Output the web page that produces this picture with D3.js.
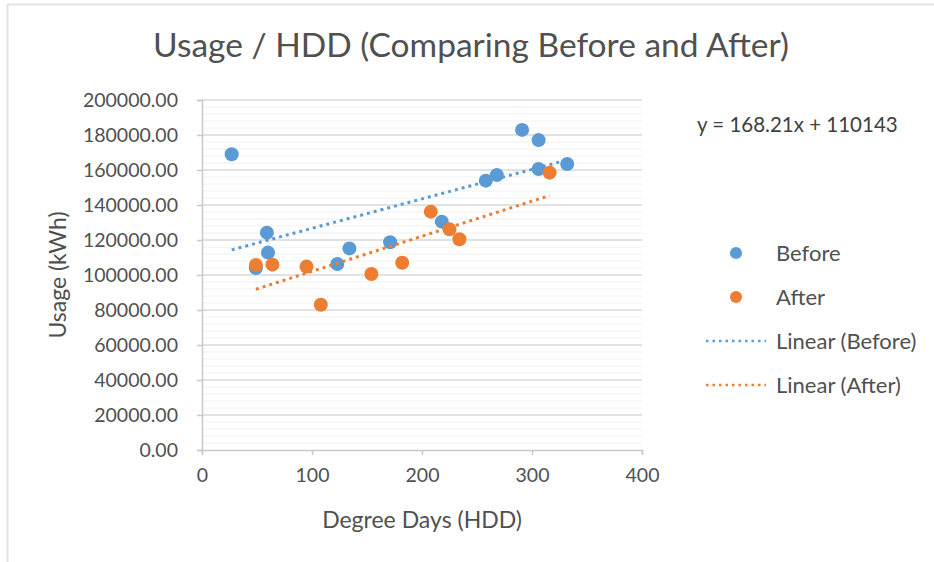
<!DOCTYPE html>
<html>
<head>
<meta charset="utf-8">
<script src="https://cdn.jsdelivr.net/npm/d3@7"></script>
<style>
  body { margin: 0; background: #fff; }
  svg { font-family: Lato, "Open Sans", sans-serif; }
</style>
</head>
<body>
<svg id="chart" width="934" height="562"></svg>
<script>
// Before retrofit: heating degree days and usage
const beforeHdd   = [27, 49, 59, 60, 123, 134, 171, 218, 258, 268, 291, 306, 306, 332];
const beforeUsage = [169000, 104000, 124200, 112800, 106300, 115200, 118700, 130500, 153900, 157100, 182900, 177100, 160600, 163400];

// After retrofit
const afterHdd   = [49, 64, 95, 108, 154, 182, 208, 225, 234, 316];
const afterUsage = [105700, 105900, 104800, 83000, 100600, 107000, 136200, 126100, 120400, 158500];

const xTicks = [0, 100, 200, 300, 400];
const yTicks = [0, 20000, 40000, 60000, 80000, 100000, 120000, 140000, 160000, 180000, 200000];
const equationLabel = "y = 168.21x + 110143";

const blue = "#5b9bd5";
const orange = "#ed7d31";
const textColor = "#505050";

const svg = d3.select("#chart");
const margin = { top: 100, right: 292, bottom: 112, left: 202 };
const width = 934, height = 562;

const x = d3.scaleLinear().domain([0, 400]).range([margin.left, width - margin.right]);
const y = d3.scaleLinear().domain([0, 200000]).range([height - margin.bottom, margin.top]);

// faint frame lines at the top and left
svg.append("line").attr("x1", 7).attr("x2", width).attr("y1", 4.5).attr("y2", 4.5)
    .attr("stroke", "#e4e4e4").attr("stroke-width", 2);
svg.append("line").attr("x1", 7.5).attr("x2", 7.5).attr("y1", 4).attr("y2", height)
    .attr("stroke", "#e4e4e4").attr("stroke-width", 2);

// minor gridlines
const minor = d3.range(0, 200001, 4000).filter(v => v % 20000 !== 0);
svg.append("g").selectAll("line").data(minor).enter().append("line")
    .attr("x1", x(0)).attr("x2", x(400))
    .attr("y1", d => y(d)).attr("y2", d => y(d))
    .attr("stroke", "#f0f0f0").attr("stroke-width", 1);

// major gridlines
svg.append("g").selectAll("line").data(yTicks.filter(v => v > 0)).enter().append("line")
    .attr("x1", x(0)).attr("x2", x(400))
    .attr("y1", d => y(d)).attr("y2", d => y(d))
    .attr("stroke", "#d9d9d9").attr("stroke-width", 1.5);

// axes
const xAxis = d3.axisBottom(x).tickValues(xTicks).tickSize(5).tickPadding(13).tickFormat(d3.format("d"));
const yAxis = d3.axisLeft(y).tickValues(yTicks).tickSize(5).tickPadding(19).tickFormat(d3.format(".2f"));

const gx = svg.append("g").attr("transform", `translate(0,${y(0)})`).call(xAxis);
const gy = svg.append("g").attr("transform", `translate(${x(0)},0)`).call(yAxis);

[gx, gy].forEach(g => {
    g.select(".domain").attr("stroke", "#c9c9c9").attr("stroke-width", 1.5);
    g.selectAll(".tick line").attr("stroke", "#c9c9c9").attr("stroke-width", 1.5);
    g.selectAll("text").attr("fill", textColor).style("font-size", "19.5px")
        .style("font-family", "Lato, sans-serif");
});
gy.selectAll("text").attr("dy", "0.35em");

// axis titles
svg.append("text")
    .attr("x", (x(0) + x(400)) / 2).attr("y", 528)
    .attr("text-anchor", "middle").attr("fill", textColor)
    .style("font-size", "23px")
    .text("Degree Days (HDD)");

svg.append("text")
    .attr("transform", `translate(66,${(y(0) + y(200000)) / 2}) rotate(-90)`)
    .attr("text-anchor", "middle").attr("fill", textColor)
    .style("font-size", "23px")
    .text("Usage (kWh)");

// chart title
svg.append("text")
    .attr("x", 471).attr("y", 57)
    .attr("text-anchor", "middle").attr("fill", textColor)
    .style("font-size", "33.5px")
    .text("Usage / HDD (Comparing Before and After)");

// least squares fit, drawn over the series' own x range
function fit(xs, ys) {
    const mx = d3.mean(xs), my = d3.mean(ys);
    const sxy = d3.sum(xs, (v, i) => (v - mx) * (ys[i] - my));
    const sxx = d3.sum(xs, v => (v - mx) * (v - mx));
    const slope = sxy / sxx;
    const icpt = my - slope * mx;
    const [x0, x1] = d3.extent(xs);
    return [[x0, icpt + slope * x0], [x1, icpt + slope * x1]];
}

const line = d3.line().x(d => x(d[0])).y(d => y(d[1]));

const beforePts = beforeHdd.map((v, i) => [v, beforeUsage[i]]);
const afterPts = afterHdd.map((v, i) => [v, afterUsage[i]]);

// markers
svg.append("g").selectAll("circle").data(beforePts).enter().append("circle")
    .attr("cx", d => x(d[0])).attr("cy", d => y(d[1])).attr("r", 7)
    .attr("fill", blue);

svg.append("g").selectAll("circle").data(afterPts).enter().append("circle")
    .attr("cx", d => x(d[0])).attr("cy", d => y(d[1])).attr("r", 7)
    .attr("fill", orange);

// trendlines
svg.append("path").datum(fit(beforeHdd, beforeUsage)).attr("d", line)
    .attr("fill", "none").attr("stroke", blue).attr("stroke-width", 3)
    .attr("stroke-dasharray", "3 4");
svg.append("path").datum(fit(afterHdd, afterUsage)).attr("d", line)
    .attr("fill", "none").attr("stroke", orange).attr("stroke-width", 3)
    .attr("stroke-dasharray", "3 4");

// trendline equation
svg.append("text")
    .attr("x", 697).attr("y", 132)
    .attr("fill", "#404040")
    .style("font-size", "20.5px")
    .text(equationLabel);

// legend
const legendItems = [
    { label: "Before", color: blue, kind: "dot" },
    { label: "After", color: orange, kind: "dot" },
    { label: "Linear (Before)", color: blue, kind: "line" },
    { label: "Linear (After)", color: orange, kind: "line" }
];
const legend = svg.append("g");
legendItems.forEach((it, i) => {
    const cy = 253 + i * 44;
    if (it.kind === "dot") {
        legend.append("circle").attr("cx", 736).attr("cy", cy).attr("r", 6).attr("fill", it.color);
    } else {
        legend.append("line").attr("x1", 706).attr("x2", 766).attr("y1", cy).attr("y2", cy)
            .attr("stroke", it.color).attr("stroke-width", 2.5).attr("stroke-dasharray", "2.5 4");
    }
    legend.append("text").attr("x", 776).attr("y", cy).attr("dy", "0.35em")
        .attr("fill", textColor).style("font-size", "22px").text(it.label);
});
</script>
</body>
</html>
